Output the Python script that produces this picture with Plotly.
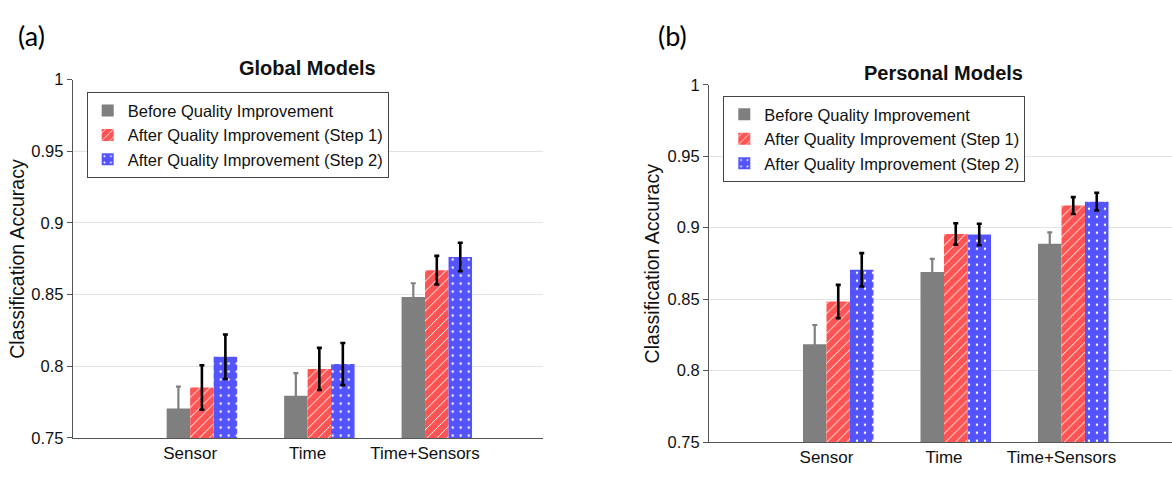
import plotly.graph_objects as go

# ---------------- data ----------------
categories = ["Sensor", "Time", "Time+Sensors"]
series_names = ["Before Quality Improvement",
                "After Quality Improvement (Step 1)",
                "After Quality Improvement (Step 2)"]

# Global models (a)
global_before = [0.7706, 0.7795, 0.8483]
global_step1 = [0.7852, 0.7981, 0.8670]
global_step2 = [0.8066, 0.8015, 0.8762]
global_before_err = [0.0152, 0.0157, 0.0096]
global_step1_err = [0.0155, 0.0147, 0.0100]
global_step2_err = [0.0155, 0.0147, 0.0099]

# Personal models (b)
personal_before = [0.8184, 0.8689, 0.8888]
personal_step1 = [0.8483, 0.8956, 0.9155]
personal_step2 = [0.8705, 0.8952, 0.9182]
personal_before_err = [0.0135, 0.0092, 0.0079]
personal_step1_err = [0.0117, 0.0075, 0.0059]
personal_step2_err = [0.0117, 0.0075, 0.0062]

ytick_vals = [0.75, 0.8, 0.85, 0.9, 0.95, 1.0]
ytick_text = ["0.75", "0.8", "0.85", "0.9", "0.95", "1"]

# ---------------- styles ----------------
W, H = 1172, 478
GRAY = "#7f7f7f"
RED = "#ff5454"
BLUE = "#5454ff"
FONT = "Liberation Sans, Arial, sans-serif"
xpos = [1, 2, 3]

fig = go.Figure()


def add_panel(vals, errs, xa, ya, legend, show):
    colors = [GRAY, RED, BLUE]
    offsets = [-0.2, 0.0, 0.2]
    patterns = [
        dict(shape=""),
        dict(shape="/", fgcolor="white", bgcolor=RED, size=7, solidity=0.14, fillmode="replace"),
        dict(shape=".", fgcolor="white", bgcolor=BLUE, size=8, solidity=0.07, fillmode="replace"),
    ]
    for i in range(3):
        ecol = "#808080" if i == 0 else "black"
        fig.add_trace(go.Bar(
            x=xpos, y=vals[i], base=0,
            name=series_names[i],
            width=0.2, offset=offsets[i],
            marker=dict(color=colors[i], line=dict(width=0), pattern=patterns[i]),
            error_y=dict(type="data", array=errs[i], visible=True,
                         color=ecol, thickness=2.2 if i == 0 else 2.6, width=2.5),
            xaxis=xa, yaxis=ya, legend=legend, showlegend=show,
        ))


add_panel([global_before, global_step1, global_step2],
          [global_before_err, global_step1_err, global_step2_err],
          "x", "y", "legend", True)
add_panel([personal_before, personal_step1, personal_step2],
          [personal_before_err, personal_step1_err, personal_step2_err],
          "x2", "y2", "legend2", True)


def px_x(p):
    return p / W


def px_y(p):
    return 1 - p / H


axis_common = dict(showline=True, linecolor="#555555", linewidth=1, mirror=False,
                   zeroline=False)

# panel a: plot area x 72.7..542.5, y 73.3..445.7 ; unit = 117.5 px
# panel b: plot area x 709..(cut), y 78.7..450
fig.update_layout(
    width=W, height=H,
    margin=dict(l=0, r=0, t=0, b=0),
    paper_bgcolor="white", plot_bgcolor="white",
    barmode="overlay",
    font=dict(family=FONT, color="#111111"),
    xaxis=dict(domain=[px_x(72.7), px_x(542.5)], range=[0, 4],
               tickvals=xpos, ticktext=categories, ticks="",
               tickfont=dict(size=17, color="#111111"), showgrid=False,
               anchor="y", **axis_common),
    yaxis=dict(domain=[px_y(445.7), px_y(73.3)], range=[0.75, 1.0],
               tickvals=ytick_vals, ticktext=ytick_text,
               ticks="outside", ticklen=5, tickcolor="#555555",
               tickfont=dict(size=16.5, color="#111111"),
               showgrid=True, gridcolor="#e3e3e3", gridwidth=1,
               anchor="x", **axis_common),
    xaxis2=dict(domain=[px_x(709), 1.0], range=[0, (W - 709) / 117.5],
                tickvals=xpos, ticktext=categories, ticks="",
                tickfont=dict(size=17, color="#111111"), showgrid=False,
                anchor="y2", **axis_common),
    yaxis2=dict(domain=[px_y(450), px_y(78.7)], range=[0.75, 1.0],
                tickvals=ytick_vals, ticktext=ytick_text,
                ticks="outside", ticklen=5, tickcolor="#555555",
                tickfont=dict(size=16.5, color="#111111"),
                showgrid=True, gridcolor="#e3e3e3", gridwidth=1,
                anchor="x2", **axis_common),
    legend=dict(x=px_x(86.7), y=px_y(86.5), xanchor="left", yanchor="top",
                bgcolor="white", bordercolor="#444444", borderwidth=1,
                font=dict(size=16.5, family=FONT, color="#111111"),
                traceorder="normal", itemclick=False),
    legend2=dict(x=px_x(723.3), y=px_y(90.5), xanchor="left", yanchor="top",
                 bgcolor="white", bordercolor="#444444", borderwidth=1,
                 font=dict(size=16.5, family=FONT, color="#111111"),
                 traceorder="normal", itemclick=False),
)

annotations = [
    dict(text="<b>Global Models</b>", x=px_x(307.6), y=px_y(61),
         font=dict(size=20, family=FONT, color="#111111")),
    dict(text="<b>Personal Models</b>", x=px_x(943), y=px_y(66),
         font=dict(size=20, family=FONT, color="#111111")),
    dict(text="Classification Accuracy", x=px_x(17), y=px_y(259.5), textangle=-90,
         font=dict(size=19.5, family=FONT, color="#111111")),
    dict(text="Classification Accuracy", x=px_x(652), y=px_y(264.4), textangle=-90,
         font=dict(size=19.5, family=FONT, color="#111111")),
    dict(text="(a)", x=px_x(31), y=px_y(28),
         font=dict(size=27, family="Lato, Carlito, sans-serif", color="#000000")),
    dict(text="(b)", x=px_x(672), y=px_y(28),
         font=dict(size=27, family="Lato, Carlito, sans-serif", color="#000000")),
]
for a in annotations:
    a.update(xref="paper", yref="paper", showarrow=False,
             xanchor="center", yanchor="middle")
fig.update_layout(annotations=annotations)

fig.write_html("out.html")
